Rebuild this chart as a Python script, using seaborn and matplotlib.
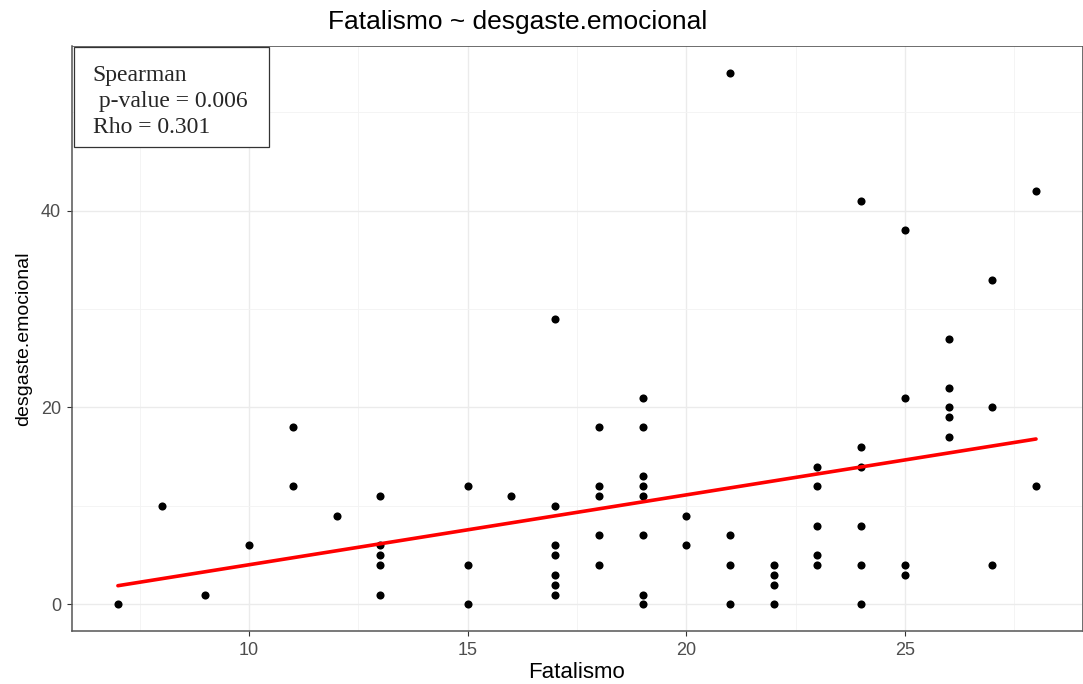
import numpy as np
import pandas as pd
import matplotlib
matplotlib.use("Agg")
import matplotlib.pyplot as plt
import seaborn as sns
from matplotlib.ticker import MultipleLocator
from matplotlib.patches import Rectangle

# Data
fatalismo = [7, 8, 9, 10, 11, 11, 12,
             13, 13, 13, 13, 13,
             15, 15, 15, 16,
             17, 17, 17, 17, 17, 17, 17,
             18, 18, 18, 18, 18,
             19, 19, 19, 19, 19, 19, 19, 19,
             20, 20,
             21, 21, 21, 21,
             22, 22, 22, 22,
             23, 23, 23, 23, 23,
             24, 24, 24, 24, 24, 24,
             25, 25, 25, 25,
             26, 26, 26, 26, 26,
             27, 27, 27,
             28, 28]
desgaste = [0, 10, 1, 6, 18, 12, 9,
            11, 6, 5, 4, 1,
            12, 4, 0, 11,
            29, 10, 6, 5, 3, 2, 1,
            18, 12, 11, 7, 4,
            21, 18, 13, 12, 11, 7, 1, 0,
            9, 6,
            54, 7, 4, 0,
            4, 3, 2, 0,
            14, 12, 8, 5, 4,
            41, 16, 14, 8, 4, 0,
            38, 21, 4, 3,
            27, 22, 20, 19, 17,
            33, 20, 4,
            42, 12]
fit_x = [7, 28]
fit_y = [1.9, 16.8]

title = "Fatalismo ~ desgaste.emocional"
xlabel = "Fatalismo"
ylabel = "desgaste.emocional"
annot = "Spearman\n p-value = 0.006\nRho = 0.301"

df = pd.DataFrame({"x": fatalismo, "y": desgaste})
fit = pd.DataFrame({"x": fit_x, "y": fit_y})

sns.set_theme(style="white")
plt.rcParams["font.family"] = ["Liberation Sans", "DejaVu Sans"]

fig = plt.figure(figsize=(10.83, 6.84), dpi=100)
ax = fig.add_axes([0.0665, 0.0775, 0.9325, 0.855])

sns.scatterplot(data=df, x="x", y="y", ax=ax, color="black", s=34,
                edgecolor="black", linewidth=0, zorder=3)
sns.lineplot(data=fit, x="x", y="y", ax=ax, color="#ff0000", linewidth=2.6,
             zorder=4)

ax.set_xlim(5.95, 29.05)
ax.set_ylim(-2.7, 56.7)
ax.xaxis.set_major_locator(MultipleLocator(5))
ax.xaxis.set_minor_locator(MultipleLocator(2.5))
ax.yaxis.set_major_locator(MultipleLocator(20))
ax.yaxis.set_minor_locator(MultipleLocator(10))
ax.grid(which="major", color="#ebebeb", linewidth=1.0)
ax.grid(which="minor", color="#f3f3f3", linewidth=0.6)
ax.set_axisbelow(True)

for side in ["top", "right"]:
    ax.spines[side].set_color("#555555")
    ax.spines[side].set_linewidth(0.6)
for side in ["left", "bottom"]:
    ax.spines[side].set_color("#555555")
    ax.spines[side].set_linewidth(1.1)

ax.tick_params(axis="both", which="major", labelsize=13, labelcolor="#4d4d4d",
               length=3.5, width=0.8, color="#333333", bottom=True, left=True,
               pad=4.5)
ax.tick_params(axis="both", which="minor", length=0)

ax.set_xlabel(xlabel, fontsize=16, color="black", labelpad=2)
ax.set_ylabel(ylabel, fontsize=14, color="black", labelpad=6)
fig.suptitle(title, fontsize=19, x=0.478, y=0.985, color="black")

ax.add_patch(Rectangle((0.002, 0.827), 0.193, 0.171, transform=ax.transAxes,
                       facecolor="white", edgecolor="#333333", linewidth=0.9,
                       zorder=5))
ax.text(0.0205, 0.967, annot, transform=ax.transAxes, ha="left", va="top",
        fontsize=17, family=["Liberation Serif", "DejaVu Serif"],
        linespacing=1.3, zorder=6)

fig.savefig("out.png", dpi=100)
